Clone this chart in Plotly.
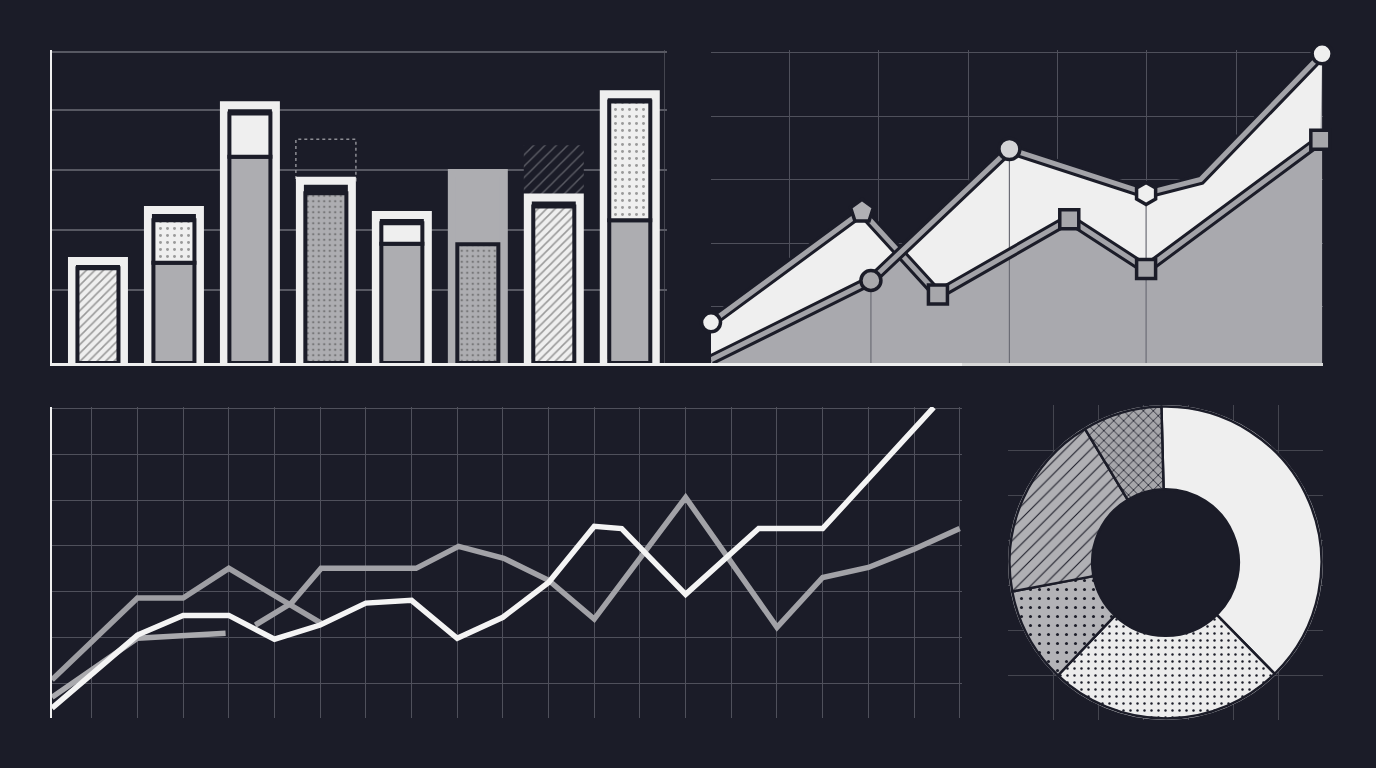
import plotly.graph_objects as go

BG = "#1b1c28"
WHITE = "#efefef"
GRAY = "#adadb1"
GRID = "#4f505b"
W, H = 1376, 768

# ---------------- Panel 1: framed bars ----------------
bar_pos = [0, 1, 2, 3, 4, 5, 6, 7]
bar_frame = [1.70, 2.55, 4.30, 3.04, 2.47, 3.17, 2.76, 4.48]
bar_inner = [1.58, 1.67, 3.44, 2.83, 1.99, 1.98, 2.61, 2.38]
bar_upper = [None, 2.38, 4.16, None, 2.33, None, None, 4.36]
bar_ghost = [None, None, None, 3.73, None, None, 3.63, None]
frame_kind = ["box", "box", "box", "box", "box", "block", "box", "box"]
inner_kind = ["hatch", "gray", "gray", "dots_gray", "gray", "dots_gray", "hatch", "gray"]
upper_kind = [None, "dots", "solid", None, "solid", None, None, "dots"]
ghost_kind = [None, None, None, "dashed", None, None, "hatch", None]

# ---------------- Panel 2: crossing area series ----------------
area_x1 = [0.12, 1.81, 2.66, 4.13, 4.99, 6.94]
area_y1 = [0.75, 2.50, 1.19, 2.375, 1.59, 3.625]
area_sym1 = ["circle", "pentagon", "square", "square", "square", "square"]
area_x2 = [0.12, 1.91, 3.46, 4.99, 5.60, 6.96]
area_y2 = [0.16, 1.41, 3.48, 2.78, 3.00, 4.98]
area_sym2 = ["circle", "circle", "circle", "hexagon", "circle", "circle"]
area_mark2 = [False, True, True, True, False, True]
area_drop2 = [False, True, True, True, False, False]

# ---------------- Panel 3: line series ----------------
white_x = [0.13, 2, 3, 4, 5, 6, 7, 8, 9, 10, 11, 12, 12.6, 14, 15.6, 17, 19.43]
white_y = [0.45, 2.05, 2.48, 2.48, 1.96, 2.27, 2.75, 2.81, 1.98, 2.44, 3.20, 4.43, 4.38, 2.94, 4.38, 4.38, 7.03]
grayA_x = [0.13, 2, 3, 4, 6.02]
grayA_y = [1.07, 2.86, 2.86, 3.51, 2.31]
grayB_x = [4.58, 5.37, 6.02, 8.1, 9.03, 10.02, 11, 12, 14, 16, 17, 18, 19, 20]
grayB_y = [2.27, 2.75, 3.51, 3.51, 3.99, 3.73, 3.25, 2.40, 5.06, 2.22, 3.31, 3.53, 3.93, 4.38]
grayC_x = [0.13, 2, 3.93]
grayC_y = [0.69, 1.98, 2.09]

# ---------------- Panel 4: donut ----------------
donut_labels = ["A", "B", "C", "D", "E"]
donut_values = [38.0, 24.4, 9.9, 19.3, 8.2]
DONUT_HOLE = 0.47

fig = go.Figure()

# ---- Panel 1 traces ----
fill_style = {
    "hatch": ("/", WHITE, 6, 0.26),
    "gray": ("", GRAY, 8, 0.2),
    "dots_gray": (".", GRAY, 5.5, 0.16),
    "dots": (".", WHITE, 7, 0.14),
    "solid": ("", WHITE, 8, 0.2),
}

gh_idx = [i for i, k in enumerate(ghost_kind) if k == "hatch"]
fig.add_trace(go.Bar(
    x=[bar_pos[i] for i in gh_idx],
    base=[bar_frame[i] for i in gh_idx],
    y=[bar_ghost[i] - bar_frame[i] for i in gh_idx],
    width=0.79, xaxis="x", yaxis="y",
    marker=dict(color=BG, line=dict(width=0),
                pattern=dict(shape="/", fgcolor="#9a9aa0", bgcolor=BG, size=8, solidity=0.18)),
    hoverinfo="skip"))

fig.add_trace(go.Bar(
    x=bar_pos, y=bar_frame, width=0.684, xaxis="x", yaxis="y",
    marker=dict(color=[GRAY if k == "block" else BG for k in frame_kind],
                line=dict(color=[GRAY if k == "block" else WHITE for k in frame_kind], width=8)),
    hoverinfo="skip"))

fig.add_trace(go.Bar(
    x=bar_pos, y=bar_inner, width=0.54, xaxis="x", yaxis="y",
    marker=dict(color=[fill_style[k][1] for k in inner_kind],
                line=dict(color=BG, width=4),
                pattern=dict(shape=[fill_style[k][0] for k in inner_kind],
                             bgcolor=[fill_style[k][1] for k in inner_kind],
                             fgcolor=BG,
                             size=[fill_style[k][2] for k in inner_kind],
                             solidity=[fill_style[k][3] for k in inner_kind])),
    hoverinfo="skip"))

up_idx = [i for i, k in enumerate(upper_kind) if k]
fig.add_trace(go.Bar(
    x=[bar_pos[i] for i in up_idx],
    base=[bar_inner[i] for i in up_idx],
    y=[bar_upper[i] - bar_inner[i] for i in up_idx],
    width=0.54, xaxis="x", yaxis="y",
    marker=dict(color=[fill_style[upper_kind[i]][1] for i in up_idx],
                line=dict(color=BG, width=4),
                pattern=dict(shape=[fill_style[upper_kind[i]][0] for i in up_idx],
                             bgcolor=[fill_style[upper_kind[i]][1] for i in up_idx],
                             fgcolor=BG,
                             size=[fill_style[upper_kind[i]][2] for i in up_idx],
                             solidity=[fill_style[upper_kind[i]][3] for i in up_idx])),
    hoverinfo="skip"))

shapes = []
for i, k in enumerate(ghost_kind):
    if k == "dashed":
        shapes.append(dict(type="rect", xref="x", yref="y", layer="between",
                           x0=bar_pos[i] - 0.395, x1=bar_pos[i] + 0.395,
                           y0=bar_frame[i], y1=bar_ghost[i],
                           line=dict(color="#8d8d94", width=1.5, dash="dot")))

# ---- Panel 2 traces ----
AREA_GRAY = "#a9a9ae"
LINE_GRAY = "#a3a3a8"
for xs, ys in ((area_x1, area_y1), (area_x2, area_y2)):
    fig.add_trace(go.Scatter(x=xs, y=ys, mode="lines", fill="tozeroy",
                             fillcolor=AREA_GRAY, line=dict(width=0),
                             xaxis="x2", yaxis="y2", hoverinfo="skip"))
fig.add_trace(go.Scatter(x=area_x1, y=area_y1, mode="lines", line=dict(width=0),
                         xaxis="x2", yaxis="y2", hoverinfo="skip"))
fig.add_trace(go.Scatter(x=area_x2, y=area_y2, mode="lines", line=dict(width=0),
                         fill="tonexty", fillcolor=WHITE,
                         xaxis="x2", yaxis="y2", hoverinfo="skip"))
# drop lines from upper markers
ymin2 = 0.11
fig.add_trace(go.Scatter(
    x=[x for x, d in zip(area_x2, area_drop2) if d],
    y=[y for y, d in zip(area_y2, area_drop2) if d],
    mode="markers", marker=dict(size=1, opacity=0),
    error_y=dict(type="data", symmetric=False,
                 array=[0 for d in area_drop2 if d],
                 arrayminus=[y - ymin2 for y, d in zip(area_y2, area_drop2) if d],
                 color="#6c6d76", thickness=1.2, width=0),
    xaxis="x2", yaxis="y2", hoverinfo="skip"))

for xs, ys in ((area_x1, area_y1), (area_x2, area_y2)):
    fig.add_trace(go.Scatter(x=xs, y=ys, mode="lines", line=dict(color=BG, width=11),
                             xaxis="x2", yaxis="y2", hoverinfo="skip", cliponaxis=False))
    fig.add_trace(go.Scatter(x=xs, y=ys, mode="lines", line=dict(color=LINE_GRAY, width=5),
                             xaxis="x2", yaxis="y2", hoverinfo="skip", cliponaxis=False))

s1_colors = [WHITE, "#b0b0b4", "#a7a7ab", "#a7a7ab", "#a7a7ab", "#a7a7ab"]
s1_sizes = [19, 24, 19, 19, 19, 19]
fig.add_trace(go.Scatter(x=area_x1, y=area_y1, mode="markers",
                         marker=dict(symbol=area_sym1, size=s1_sizes, color=s1_colors, opacity=1,
                                     line=dict(color=BG, width=3.5)),
                         xaxis="x2", yaxis="y2", hoverinfo="skip", cliponaxis=False))
s2_colors = ["#c0c0c4", "#a9a9ad", "#d4d4d6", WHITE, "#ffffff", WHITE]
s2_sizes = [0, 20, 21, 22, 0, 20]
m_idx = [i for i, m in enumerate(area_mark2) if m]
fig.add_trace(go.Scatter(x=[area_x2[i] for i in m_idx], y=[area_y2[i] for i in m_idx],
                         mode="markers",
                         marker=dict(symbol=[area_sym2[i] for i in m_idx],
                                     size=[s2_sizes[i] for i in m_idx], opacity=1,
                                     color=[s2_colors[i] for i in m_idx],
                                     line=dict(color=BG, width=3.5)),
                         xaxis="x2", yaxis="y2", hoverinfo="skip", cliponaxis=False))

# ---- Panel 3 traces ----
for xs, ys, col in ((grayC_x, grayC_y, "#aaaaae"), (grayA_x, grayA_y, "#9e9ea3"),
                    (grayB_x, grayB_y, "#a2a2a7"), (white_x, white_y, "#f4f4f4")):
    fig.add_trace(go.Scatter(x=xs, y=ys, mode="lines", line=dict(color=col, width=5.5),
                             xaxis="x3", yaxis="y3", hoverinfo="skip"))

# ---- Panel 4: donut (background grid + mask for the hole + donut) ----
pie_x = [1008 / W, 1323 / W]
pie_y = [1 - 720 / H, 1 - 405 / H]
cx, cy = sum(pie_x) / 2, sum(pie_y) / 2
hx = (pie_x[1] - pie_x[0]) / 2 * DONUT_HOLE
hy = (pie_y[1] - pie_y[0]) / 2 * DONUT_HOLE
fig.add_trace(go.Pie(values=[1], labels=["mask"], textinfo="none", hoverinfo="skip",
                     sort=False, marker=dict(colors=[BG], line=dict(width=0)),
                     domain=dict(x=[cx - hx * 1.02, cx + hx * 1.02], y=[cy - hy * 1.02, cy + hy * 1.02])))
# thin light rim around the donut
fig.add_trace(go.Pie(values=[1], labels=["rim"], textinfo="none", hoverinfo="skip",
                     sort=False, hole=0.98, marker=dict(colors=["#d8d8da"], line=dict(width=0)),
                     domain=dict(x=pie_x, y=pie_y)))
fig.add_trace(go.Pie(
    labels=donut_labels, values=donut_values, hole=DONUT_HOLE, sort=False,
    direction="clockwise", rotation=-1.5, textinfo="none", hoverinfo="skip",
    domain=dict(x=[pie_x[0] + 1.5 / W, pie_x[1] - 1.5 / W], y=[pie_y[0] + 1.5 / H, pie_y[1] - 1.5 / H]),
    marker=dict(colors=[WHITE, "#ececec", "#b3b3b7", "#b0b0b4", "#a6a6aa"],
                line=dict(color=BG, width=2.5),
                pattern=dict(shape=["", ".", ".", "/", "x"],
                             bgcolor=[WHITE, "#ececec", "#b3b3b7", "#b0b0b4", "#a6a6aa"],
                             fgcolor=BG, size=[8, 7, 9, 9, 7],
                             solidity=[0.1, 0.1, 0.09, 0.12, 0.22])),
))
# invisible trace to activate the donut background grid axes
fig.add_trace(go.Scatter(x=[None], y=[None], xaxis="x4", yaxis="y4", hoverinfo="skip"))


def ax(domain, rng, **kw):
    d = dict(domain=domain, range=rng, showticklabels=False, ticks="", zeroline=False,
             showgrid=True, gridcolor=GRID, gridwidth=1, fixedrange=True)
    d.update(kw)
    return d


top_y = [1 - 363 / H, 1 - 50 / H]
fig.update_layout(
    width=W, height=H, margin=dict(l=0, r=0, t=0, b=0),
    paper_bgcolor=BG, plot_bgcolor=BG, showlegend=False, barmode="overlay",
    xaxis=ax([52 / W, 667 / W], [-0.605, 7.49], tickmode="array", tickvals=[7.46],
             gridcolor="#44454f", showline=True, linecolor=WHITE, linewidth=3),
    yaxis=ax(top_y, [0, 5.22], tickmode="array", tickvals=[1.22, 2.22, 3.22, 4.22, 5.19],
             gridcolor="#575862", gridwidth=1.5, showline=True, linecolor=WHITE, linewidth=2),
    xaxis2=ax([711 / W, 1323 / W], [0.12, 6.97], tick0=0, dtick=1,
              showline=True, linecolor="#d8d8d8", linewidth=3),
    yaxis2=ax(top_y, [0.11, 5.04], tick0=0, dtick=1,
              showline=True, linecolor=WHITE, linewidth=2),
    xaxis3=ax([52 / W, 962 / W], [0.13, 20.05], tick0=0, dtick=1,
              showline=True, linecolor=WHITE, linewidth=3),
    yaxis3=ax([1 - 718 / H, 1 - 407 / H], [0.236, 7.04], tick0=0, dtick=1,
              showline=True, linecolor=WHITE, linewidth=2),
    xaxis4=ax(pie_x, [0, 7], tick0=0, dtick=1, gridcolor="#44454f"),
    yaxis4=ax(pie_y, [0, 7], tick0=0, dtick=1, gridcolor="#44454f"),
    shapes=shapes,
)

fig.write_html("out.html", config={"displayModeBar": False},
               post_script="document.body.style.margin='0px';document.body.style.background='#1b1c28';")
